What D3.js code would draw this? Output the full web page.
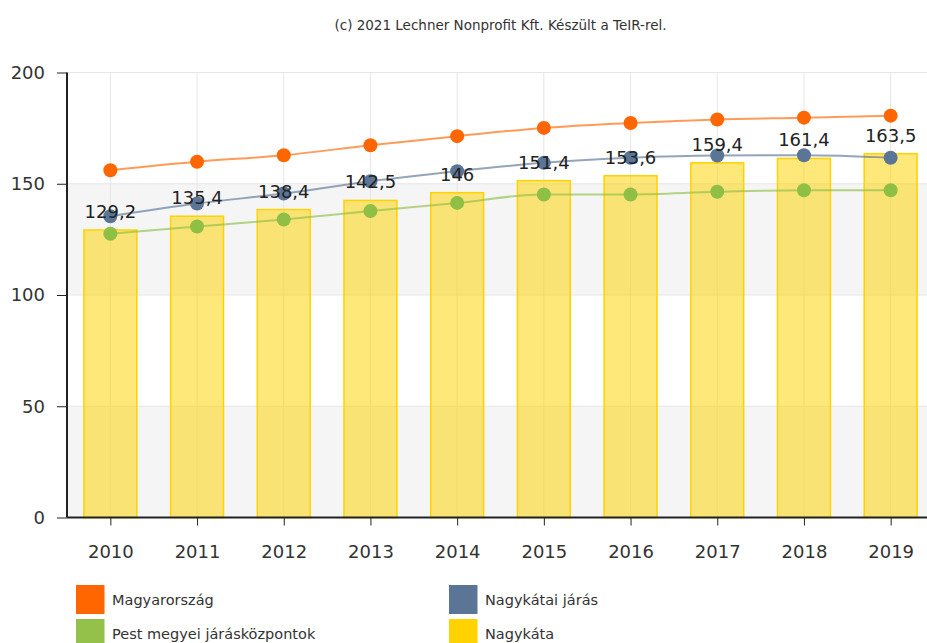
<!DOCTYPE html>
<html>
<head>
<meta charset="utf-8">
<script src="https://cdn.jsdelivr.net/npm/d3@7/dist/d3.min.js"></script>
<style>
  body { margin: 0; background: #fff; }
  svg { display: block; font-family: "DejaVu Sans", Verdana, sans-serif; }
</style>
</head>
<body>
<svg id="chart" width="927" height="643"></svg>
<script>
// data
var years = ["2010", "2011", "2012", "2013", "2014", "2015", "2016", "2017", "2018", "2019"];
var nagykata = [129.2, 135.4, 138.4, 142.5, 146, 151.4, 153.6, 159.4, 161.4, 163.5];
var magyarorszag = [156.1, 159.9, 162.8, 167.3, 171.4, 175.1, 177.3, 178.9, 179.7, 180.6];
var nagykataiJaras = [135.4, 141.1, 145.6, 151.1, 155.6, 159.4, 161.7, 162.7, 162.8, 161.7];
var pestJarasKozpontok = [127.5, 130.8, 133.9, 137.7, 141.4, 145.2, 145.2, 146.4, 147.1, 147.1];
var yTicks = [0, 50, 100, 150, 200];

var title = "(c) 2021 Lechner Nonprofit Kft. Készült a TeIR-rel.";

var lineSeries = [
  { name: "Magyarország", values: magyarorszag, color: "#ff6600" },
  { name: "Nagykátai járás", values: nagykataiJaras, color: "#5b7596" },
  { name: "Pest megyei járásközpontok", values: pestJarasKozpontok, color: "#8fbf45" }
];
var barColor = "#ffd200";

var legendItems = [
  { name: "Magyarország", color: "#ff6600" },
  { name: "Nagykátai járás", color: "#5b7596" },
  { name: "Pest megyei járásközpontok", color: "#94c149" },
  { name: "Nagykáta", color: barColor }
];

var svg = d3.select("#chart");
var plotLeft = 67, plotRight = 934, plotTop = 72.5, plotBottom = 517.5;

var x = d3.scalePoint().domain(years).range([plotLeft, plotRight]).padding(0.5);
var y = d3.scaleLinear().domain([0, 200]).range([plotBottom, plotTop]);
var barW = x.step() * 0.61;

var fmt = function (v) { return String(v).replace(".", ","); };

// title
svg.append("text")
  .attr("x", (plotLeft + plotRight) / 2)
  .attr("y", 30)
  .attr("text-anchor", "middle")
  .attr("font-size", "13.5px")
  .attr("fill", "#333")
  .text(title);

var g = svg.append("g");

// alternating bands
d3.pairs(yTicks).forEach(function (p, i) {
  if (i % 2 === 0) {
    g.append("rect")
      .attr("x", plotLeft)
      .attr("y", y(p[1]))
      .attr("width", plotRight - plotLeft)
      .attr("height", y(p[0]) - y(p[1]))
      .attr("fill", "#f5f5f5");
  }
});

// grid
g.selectAll(".hgrid")
  .data(yTicks.slice(1))
  .enter().append("line")
  .attr("x1", plotLeft).attr("x2", plotRight)
  .attr("y1", function (d) { return y(d); })
  .attr("y2", function (d) { return y(d); })
  .attr("stroke", "#e6e6e6");

g.selectAll(".vgrid")
  .data(years)
  .enter().append("line")
  .attr("x1", function (d) { return x(d); })
  .attr("x2", function (d) { return x(d); })
  .attr("y1", plotTop).attr("y2", plotBottom)
  .attr("stroke", "#e6e6e6");

// bars
g.selectAll(".bar")
  .data(nagykata)
  .enter().append("rect")
  .attr("x", function (d, i) { return x(years[i]) - barW / 2; })
  .attr("y", function (d) { return y(d); })
  .attr("width", barW)
  .attr("height", function (d) { return y(0) - y(d); })
  .attr("fill", barColor)
  .attr("fill-opacity", 0.52)
  .attr("stroke", barColor)
  .attr("stroke-width", 1.5);

// lines
var line = d3.line()
  .x(function (d, i) { return x(years[i]); })
  .y(function (d) { return y(d); })
  .curve(d3.curveMonotoneX);

lineSeries.forEach(function (s) {
  g.append("path")
    .datum(s.values)
    .attr("d", line)
    .attr("fill", "none")
    .attr("stroke", s.color)
    .attr("stroke-opacity", 0.65)
    .attr("stroke-width", 2);
});

lineSeries.forEach(function (s) {
  g.selectAll(null)
    .data(s.values)
    .enter().append("circle")
    .attr("cx", function (d, i) { return x(years[i]); })
    .attr("cy", function (d) { return y(d); })
    .attr("r", 7)
    .attr("fill", s.color);
});

// bar labels
g.selectAll(".lbl")
  .data(nagykata)
  .enter().append("text")
  .attr("x", function (d, i) { return x(years[i]); })
  .attr("y", function (d) { return y(d) - 12; })
  .attr("text-anchor", "middle")
  .attr("font-size", "18px")
  .attr("fill", "#222")
  .text(fmt);

// axes
var yAxis = svg.append("g")
  .attr("transform", "translate(" + plotLeft + ",0)")
  .call(d3.axisLeft(y).tickValues(yTicks).tickSize(10).tickPadding(12).tickFormat(d3.format("d")));
yAxis.select(".domain").attr("stroke", "#222").attr("stroke-width", 2).attr("d", "M0," + plotTop + "V" + plotBottom);
yAxis.selectAll(".tick line").attr("stroke", "#222");
yAxis.selectAll("text").attr("font-size", "18px").attr("fill", "#333").attr("font-family", "DejaVu Sans, Verdana, sans-serif");

var xAxis = svg.append("g")
  .attr("transform", "translate(0," + plotBottom + ")")
  .call(d3.axisBottom(x).tickSize(8).tickPadding(20));
xAxis.select(".domain").attr("stroke", "#222").attr("stroke-width", 2).attr("d", "M" + plotLeft + ",0H" + plotRight);
xAxis.selectAll(".tick line").attr("stroke", "#222");
xAxis.selectAll("text").attr("font-size", "18px").attr("fill", "#333").attr("font-family", "DejaVu Sans, Verdana, sans-serif");

// legend
var leg = svg.selectAll(".legend")
  .data(legendItems)
  .enter().append("g")
  .attr("transform", function (d, i) {
    return "translate(" + (i % 2 === 0 ? 76 : 449) + "," + (585 + Math.floor(i / 2) * 34) + ")";
  });
leg.append("rect")
  .attr("width", 28.5)
  .attr("height", 29)
  .attr("fill", function (d) { return d.color; });
leg.append("text")
  .attr("x", 36)
  .attr("y", 20)
  .attr("font-size", "14.5px")
  .attr("fill", "#333")
  .text(function (d) { return d.name; });
</script>
</body>
</html>
